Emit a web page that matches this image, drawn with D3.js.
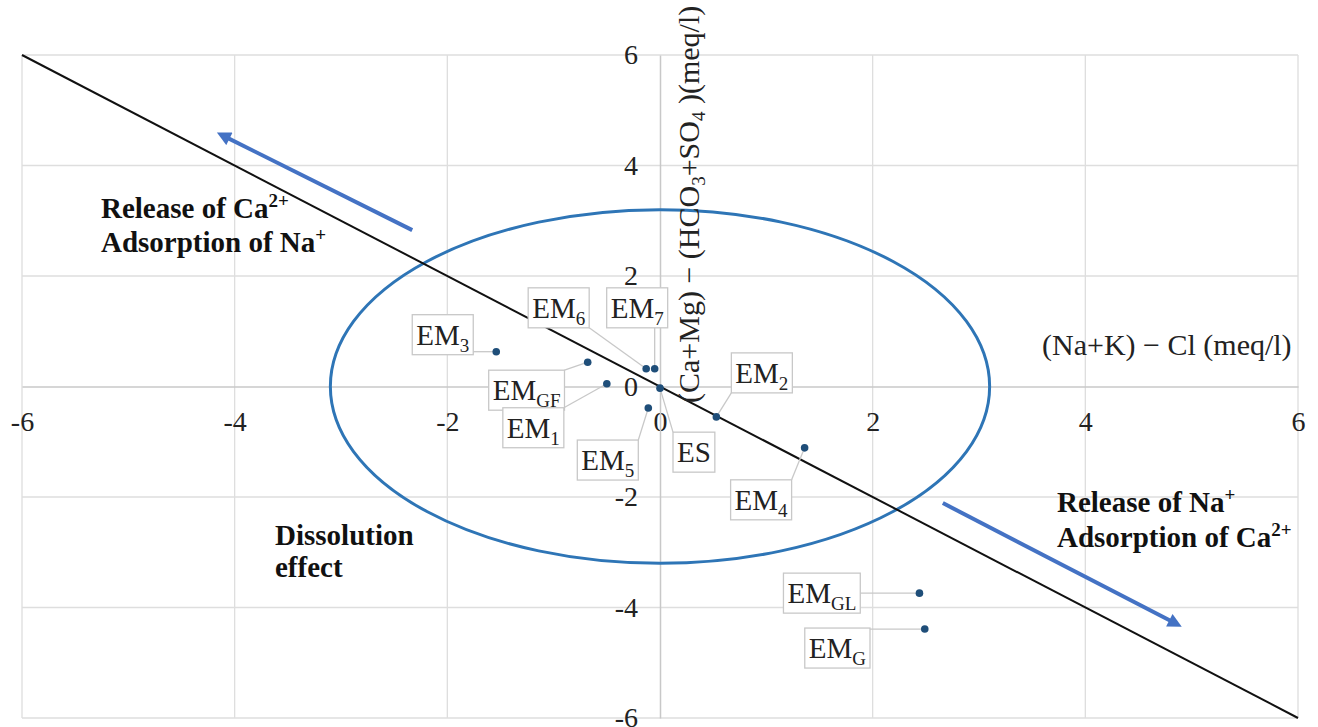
<html>
  <head>
    <meta charset="utf-8">
    <script src="https://d3js.org/d3.v7.min.js"></script>
    <style>
      body {margin:0; background:white;}
      text {font-family: "Liberation Serif", "Times New Roman", serif;}
    </style>
  </head>
  <body>
    <div id="chart1"></div>
    <script>
      // sample values
      var names   = ["EM","EM","EM","EM","EM","EM","EM","EM","EM","EM","ES"];
      var subs    = ["3","GF","1","6","7","5","2","4","GL","G",""];
      var xValues = [-1.54, -0.68, -0.50, -0.13, -0.05, -0.11, 0.53, 1.36, 2.44, 2.49, 0.00];
      var yValues = [0.63, 0.44, 0.05, 0.32, 0.32, -0.39, -0.55, -1.11, -3.74, -4.39, -0.03];

      var tickValues = [-6, -4, -2, 0, 2, 4, 6];
      var lineX = [-6, 6], lineY = [6, -6];
      var ellipseR = [3.1, 3.2];
      // arrows: [x1, y1, x2, y2] tail -> head
      var arrows = [[-2.33, 2.83, -4.12, 4.55], [2.66, -2.11, 4.86, -4.30]];

      // label box offsets from the point (pixels)
      var labelPos = [[-84,-37],[-99,8],[-104,24],[-118,-81],[-48,-81],[-71,32],[15,-64],[-74,32],[-136,-20],[-120,-1],[13,44]];

      var width = 1318, height = 727;
      var svg = d3.select("#chart1").append("svg")
        .attr("width", width).attr("height", height)
        .attr("style", "background-color: white;");

      var x = d3.scaleLinear().domain([-6, 6]).range([22, 1298]);
      var y = d3.scaleLinear().domain([-6, 6]).range([718, 55]);

      // grid
      svg.append("g").selectAll("line.v")
        .data(tickValues.filter(function(d){ return d != 0; }))
        .enter().append("line")
          .attr("x1", function(d){ return x(d); }).attr("x2", function(d){ return x(d); })
          .attr("y1", y(6)).attr("y2", y(-6))
          .style("stroke", "#dedede").style("stroke-width", 1.3);
      svg.append("g").selectAll("line.h")
        .data(tickValues.filter(function(d){ return d != 0; }))
        .enter().append("line")
          .attr("y1", function(d){ return y(d); }).attr("y2", function(d){ return y(d); })
          .attr("x1", x(-6)).attr("x2", x(6))
          .style("stroke", "#dedede").style("stroke-width", 1.3);

      // axes through zero
      var fmt = function(d){ return String(d); };
      var xAxis = svg.append("g")
        .attr("transform", "translate(0," + y(0) + ")")
        .call(d3.axisBottom(x).tickValues(tickValues).tickFormat(fmt).tickSize(0).tickPadding(25));
      var yAxis = svg.append("g")
        .attr("transform", "translate(" + x(0) + ",0)")
        .call(d3.axisLeft(y).tickValues(tickValues).tickFormat(fmt).tickSize(0).tickPadding(22));
      [xAxis, yAxis].forEach(function(a){
        a.select(".domain").attr("stroke", "#c8c8c8").attr("stroke-width", 1.5);
        a.selectAll("text")
          .style("font-family", "'Liberation Serif', 'Times New Roman', serif")
          .style("font-size", "28px").style("fill", "#222");
      });

      // ellipse
      svg.append("ellipse")
        .attr("cx", x(0)).attr("cy", y(0))
        .attr("rx", x(ellipseR[0]) - x(0)).attr("ry", y(0) - y(ellipseR[1]))
        .style("fill", "none").style("stroke", "#2e75b6").style("stroke-width", 3);

      // 1:1 line
      svg.append("line")
        .attr("x1", x(lineX[0])).attr("y1", y(lineY[0]))
        .attr("x2", x(lineX[1])).attr("y2", y(lineY[1]))
        .style("stroke", "#111").style("stroke-width", 2);

      // arrows
      svg.append("defs").append("marker")
        .attr("id", "head").attr("viewBox", "0 0 10 10")
        .attr("refX", 6).attr("refY", 5)
        .attr("markerWidth", 4).attr("markerHeight", 3.5)
        .attr("orient", "auto")
        .append("path").attr("d", "M0,0 L10,5 L0,10 z").style("fill", "#4472c4");
      svg.append("g").selectAll("line")
        .data(arrows).enter().append("line")
          .attr("x1", function(d){ return x(d[0]); }).attr("y1", function(d){ return y(d[1]); })
          .attr("x2", function(d){ return x(d[2]); }).attr("y2", function(d){ return y(d[3]); })
          .style("stroke", "#4472c4").style("stroke-width", 4)
          .attr("marker-end", "url(#head)");

      // axis titles
      var xt = svg.append("text").attr("x", 1042).attr("y", 355)
        .style("font-size", "30px").style("fill", "#222");
      xt.text("(Na+K) \u2212 Cl (meq/l)");

      var yt = svg.append("text")
        .attr("transform", "translate(699,403) rotate(-90)")
        .style("font-size", "30px").style("fill", "#222");
      yt.append("tspan").text("(Ca+Mg) \u2212 (HCO");
      yt.append("tspan").attr("dy", 6).style("font-size", "19px").text("3");
      yt.append("tspan").attr("dy", -6).text("+SO");
      yt.append("tspan").attr("dy", 6).style("font-size", "19px").text("4");
      yt.append("tspan").attr("dy", -6).text(" )(meq/l)");

      // bold annotations
      function boldLine(px, py, main, sup){
        var t = svg.append("text").attr("x", px).attr("y", py)
          .style("font-size", "29px").style("font-weight", "bold").style("fill", "#111");
        t.append("tspan").text(main);
        if(sup){
          t.append("tspan").attr("dy", -11).style("font-size", "19px").text(sup);
        }
      }
      boldLine(101, 218, "Release of Ca", "2+");
      boldLine(101, 252, "Adsorption of Na", "+");
      boldLine(1057, 512, "Release of Na", "+");
      boldLine(1057, 547, "Adsorption of Ca", "2+");
      boldLine(275, 545, "Dissolution");
      boldLine(275, 577, "effect");

      // labels with callout boxes
      var labelG = svg.append("g");
      for(var i = 0; i < names.length; i++){
        var px = x(xValues[i]), py = y(yValues[i]);
        var bx = px + labelPos[i][0], by = py + labelPos[i][1];
        var g = labelG.append("g");
        var rect = g.append("rect");
        var line = g.append("line");
        var t = g.append("text").attr("x", bx + 4).attr("y", by + 30)
          .style("font-size", "29px").style("fill", "#222");
        t.append("tspan").text(names[i]);
        if(subs[i] != ""){
          t.append("tspan").attr("dy", 7).style("font-size", "19px").text(subs[i]);
        }
        var bw = t.node().getComputedTextLength() + 8, bh = 40;
        rect.attr("x", bx).attr("y", by).attr("width", bw).attr("height", bh)
          .style("fill", "white").style("stroke", "#c8c8c8").style("stroke-width", 1.3);
        var lx = Math.max(bx, Math.min(px, bx + bw)), ly = Math.max(by, Math.min(py, by + bh));
        line.attr("x1", lx).attr("y1", ly).attr("x2", px).attr("y2", py)
          .style("stroke", "#c8c8c8").style("stroke-width", 1.3);
      }

      // points
      svg.append("g").selectAll("circle")
        .data(xValues).enter().append("circle")
          .attr("cx", function(d){ return x(d); })
          .attr("cy", function(d, i){ return y(yValues[i]); })
          .attr("r", 3.8)
          .style("fill", "#1f4e79");
    </script>
  </body>
</html>
